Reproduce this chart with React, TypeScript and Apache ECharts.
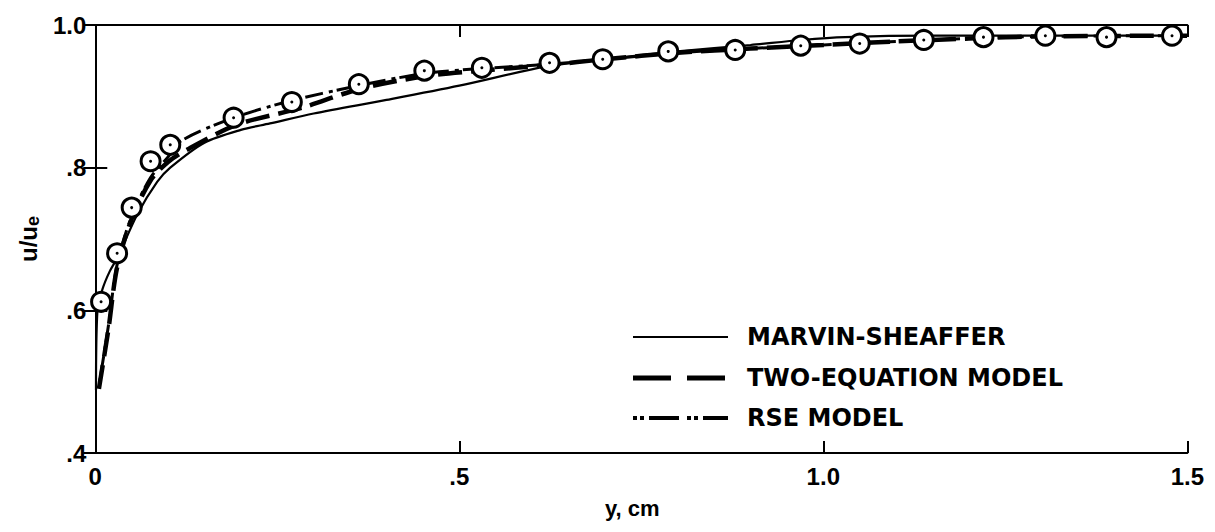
import React, { useEffect, useRef } from "react";
import * as echarts from "echarts";

// Measured points (circles)
const circleX = [0.008, 0.030, 0.050, 0.076, 0.103, 0.190, 0.270, 0.362, 0.452, 0.531, 0.624, 0.697, 0.787, 0.879, 0.969, 1.050, 1.138, 1.220, 1.305, 1.389, 1.479];
const circleY = [0.612, 0.680, 0.744, 0.809, 0.832, 0.870, 0.892, 0.917, 0.936, 0.940, 0.947, 0.952, 0.963, 0.965, 0.971, 0.974, 0.979, 0.983, 0.985, 0.983, 0.985];

// Marvin-Sheaffer (solid)
const marvinX = [0.001, 0.003, 0.010, 0.020, 0.031, 0.058, 0.085, 0.103, 0.150, 0.200, 0.240, 0.300, 0.400, 0.500, 0.620, 0.700, 0.800, 0.900, 0.970, 1.030, 1.150, 1.300, 1.500];
const marvinY = [0.488, 0.600, 0.630, 0.655, 0.675, 0.735, 0.780, 0.800, 0.835, 0.853, 0.862, 0.876, 0.895, 0.915, 0.942, 0.952, 0.963, 0.972, 0.979, 0.983, 0.985, 0.985, 0.985];

// Two-equation model (long dash)
const twoEqX = [0.005, 0.018, 0.030, 0.050, 0.076, 0.100, 0.126, 0.194, 0.284, 0.362, 0.452, 0.531, 0.624, 0.700, 0.800, 0.900, 1.000, 1.100, 1.200, 1.300, 1.500];
const twoEqY = [0.490, 0.573, 0.660, 0.728, 0.782, 0.808, 0.825, 0.860, 0.884, 0.910, 0.928, 0.936, 0.944, 0.952, 0.961, 0.967, 0.972, 0.977, 0.981, 0.984, 0.985];

// RSE model (dash-dot)
const rseX = [0.006, 0.018, 0.030, 0.050, 0.076, 0.100, 0.117, 0.185, 0.262, 0.362, 0.452, 0.531, 0.624, 0.700, 0.800, 0.900, 1.000, 1.100, 1.200, 1.300, 1.500];
const rseY = [0.500, 0.578, 0.664, 0.732, 0.786, 0.815, 0.837, 0.868, 0.892, 0.915, 0.932, 0.939, 0.945, 0.952, 0.961, 0.967, 0.972, 0.977, 0.981, 0.984, 0.985];

const xTicks = [0, 0.5, 1.0, 1.5];
const xTickLabels = ["0", ".5", "1.0", "1.5"];
const yTicks = [0.4, 0.6, 0.8, 1.0];
const yTickLabels = [".4", ".6", ".8", "1.0"];

const seriesNames = ["MARVIN-SHEAFFER", "TWO-EQUATION MODEL", "RSE MODEL"];

const FONT = "'Liberation Sans', Arial, Helvetica, sans-serif";
const LEGEND_FONT = "'DejaVu Sans', 'Liberation Sans', sans-serif";

function zip(xs: number[], ys: number[]) {
  return xs.map((x, i) => [x, ys[i]]);
}

function labelFor(v: number, ticks: number[], labels: string[]) {
  const i = ticks.findIndex((t) => Math.abs(t - v) < 1e-6);
  return i >= 0 ? labels[i] : "";
}

export default function App() {
  const ref = useRef<HTMLDivElement>(null);
  useEffect(() => {
    if (!ref.current) return;
    const chart = echarts.init(ref.current, undefined, { renderer: "svg" });
    const axisLine = { show: true, lineStyle: { color: "#000", width: 2 } };
    const tickBase = { show: true, inside: true, length: 12, lineStyle: { color: "#000", width: 2 } };

    // legend (drawn as graphics)
    const legX0 = 625;
    const legX1 = 720;
    const legTextX = 739;
    const legRows = [329, 370, 410];
    const legendDash: (number[] | null)[] = [null, [38, 16], [4, 3, 4, 5, 30, 8]];
    const legendWidth = [2.2, 5, 4];
    const legendGraphics: any[] = [];
    seriesNames.forEach((name, i) => {
      legendGraphics.push({
        type: "line",
        shape: { x1: legX0, y1: legRows[i], x2: legX1, y2: legRows[i] },
        style: { stroke: "#000", lineWidth: legendWidth[i], lineDash: legendDash[i] || undefined },
        silent: true,
      });
      legendGraphics.push({
        type: "text",
        x: legTextX,
        y: legRows[i],
        style: {
          text: name,
          fill: "#000",
          font: `bold 24px ${LEGEND_FONT}`,
          textVerticalAlign: "middle",
          verticalAlign: "middle",
        },
        silent: true,
      });
    });

    chart.setOption({
      animation: false,
      backgroundColor: "#fff",
      grid: { left: 75, right: 15, top: 17, bottom: 62, containLabel: false },
      graphic: legendGraphics,
      xAxis: [
        {
          type: "value",
          min: 0,
          max: 1.5,
          interval: 0.5,
          name: "y, cm",
          nameLocation: "middle",
          nameGap: 44,
          nameTextStyle: { fontFamily: FONT, fontWeight: "bold", fontSize: 22, color: "#000", padding: [0, 18, 0, 0] },
          axisLine,
          axisTick: tickBase,
          axisLabel: {
            fontFamily: FONT,
            fontWeight: "bold",
            fontSize: 24,
            color: "#000",
            margin: 11,
            formatter: (v: number) => labelFor(v, xTicks, xTickLabels),
          },
          splitLine: { show: false },
        },
        {
          type: "value",
          position: "top",
          min: 0,
          max: 1.5,
          interval: 0.5,
          axisLine,
          axisTick: tickBase,
          axisLabel: { show: false },
          splitLine: { show: false },
        },
      ],
      yAxis: [
        {
          type: "value",
          min: 0.4,
          max: 1.0,
          interval: 0.2,
          name: "{a|u/u}{b|e}",
          nameLocation: "middle",
          nameGap: 52,
          nameRotate: 90,
          nameTextStyle: {
            rich: {
              a: { fontFamily: FONT, fontWeight: "bold", fontSize: 24, color: "#000" },
              b: { fontFamily: FONT, fontWeight: "bold", fontSize: 18, color: "#000", padding: [10, 0, 0, 0] },
            },
          },
          axisLine,
          axisTick: tickBase,
          axisLabel: {
            fontFamily: FONT,
            fontWeight: "bold",
            fontSize: 24,
            color: "#000",
            margin: 9,
            formatter: (v: number) => labelFor(v, yTicks, yTickLabels),
          },
          splitLine: { show: false },
        },
        {
          type: "value",
          position: "right",
          min: 0.4,
          max: 1.0,
          interval: 0.2,
          axisLine,
          axisTick: tickBase,
          axisLabel: { show: false },
          splitLine: { show: false },
        },
      ],
      series: [
        {
          name: seriesNames[0],
          type: "line",
          data: zip(marvinX, marvinY),
          showSymbol: false,
          symbol: "none",
          smooth: 0.3,
          lineStyle: { color: "#000", width: 2.2, type: "solid" },
          z: 3,
        },
        {
          name: seriesNames[1],
          type: "line",
          data: zip(twoEqX, twoEqY),
          showSymbol: false,
          symbol: "none",
          smooth: 0.3,
          lineStyle: { color: "#000", width: 4.5, type: [24, 9] },
          z: 3,
        },
        {
          name: seriesNames[2],
          type: "line",
          data: zip(rseX, rseY),
          showSymbol: false,
          symbol: "none",
          smooth: 0.3,
          lineStyle: { color: "#000", width: 3, type: [4, 4, 18, 6] },
          z: 3,
        },
        {
          name: "data",
          type: "scatter",
          data: zip(circleX, circleY),
          symbol: "circle",
          symbolSize: 19,
          itemStyle: { color: "#fff", borderColor: "#000", borderWidth: 3, opacity: 1 },
          z: 5,
        },
        {
          name: "dots",
          type: "scatter",
          data: zip(circleX, circleY),
          symbol: "circle",
          symbolSize: 3,
          itemStyle: { color: "#000", opacity: 1 },
          z: 6,
        },
      ],
    });
    return () => chart.dispose();
  }, []);
  return <div ref={ref} style={{ width: 1199, height: 516 }} />;
}
